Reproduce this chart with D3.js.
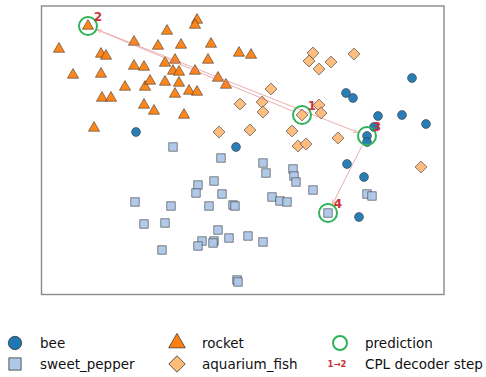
<!DOCTYPE html>
<html>
<head>
<meta charset="utf-8">
<script src="https://cdn.jsdelivr.net/npm/d3@7"></script>
<style>
  html, body { margin: 0; padding: 0; background: #fff; }
  svg { display: block; font-family: "DejaVu Sans", sans-serif; }
</style>
</head>
<body>
<svg id="chart" width="486" height="377"></svg>
<script>
// 2-D embedding of four classes, [x, y] per point
const beePoints = [
  [-10.4, 1.8], [-0.4, 0.3], [10.6, 5.7], [11.3, 5.2], [17.2, 7.2], [13.8, 3.4],
  [16.2, 3.5], [18.6, 2.6], [13.4, 2.3], [12.7, 1.4], [12.7, 0.8], [10.7, -1.4],
  [12.4, -2.7], [11.9, -6.7]
];
const sweetPepperPoints = [
  [-6.7, 0.3], [-1.9, -0.8], [-4.2, -3.5], [-2.6, -3.1], [-4.4, -4.3], [-1.8, -4.4],
  [-10.5, -5.2], [-6.9, -5.6], [-3.1, -5.6], [-0.7, -5.5], [-0.5, -5.6], [-9.6, -7.4],
  [-7.5, -7.3], [-2.2, -8.0], [-1.1, -8.8], [0.8, -8.6], [-3.8, -9.1], [-4.2, -9.6],
  [-2.6, -9.1], [-2.7, -9.3], [-7.8, -10.0], [-0.3, -13.0], [-0.2, -13.2], [2.3, -1.3],
  [2.6, -2.3], [5.3, -1.9], [5.4, -2.6], [5.6, -3.2], [7.3, -4.0], [3.2, -4.7],
  [4.0, -5.1], [4.7, -5.2], [12.7, -4.4], [13.2, -4.6], [8.8, -6.3], [2.3, -9.2]
];
const rocketPoints = [
  [-18.1, 10.1], [-16.7, 7.5], [-15.2, 12.4], [-14.6, 2.2], [-13.9, 9.6], [-13.4, 9.4],
  [-13.9, 7.6], [-13.8, 5.2], [-12.9, 5.2], [-11.5, 6.3], [-10.6, 10.8], [-10.6, 8.4],
  [-9.6, 8.3], [-9.6, 4.5], [-9.5, 6.3], [-9.0, 6.9], [-8.6, 3.9], [-8.2, 10.4],
  [-7.5, 8.7], [-7.5, 6.8], [-7.3, 11.9], [-6.7, 7.9], [-6.5, 9.0], [-6.5, 5.6],
  [-6.1, 7.8], [-5.9, 10.5], [-6.1, 6.7], [-5.6, 3.5], [-5.1, 5.9], [-4.3, 13.0],
  [-4.5, 12.5], [-4.3, 5.8], [-4.5, 7.9], [-3.2, 9.0], [-2.9, 10.6], [-2.2, 7.2],
  [-1.4, 6.5], [-0.1, 9.7], [1.1, 9.5]
];
const aquariumFishPoints = [
  [7.3, 9.7], [6.9, 8.9], [7.9, 8.1], [9.1, 8.8], [11.4, 9.6], [3.1, 6.1],
  [0.0, 4.6], [2.2, 4.8], [2.3, 3.8], [6.2, 3.5], [7.9, 4.5], [8.1, 3.7],
  [1.0, 2.0], [5.2, 1.9], [9.8, 1.2], [5.8, 0.4], [6.6, 0.6], [-2.1, 1.8],
  [18.1, -1.7]
];
// decoder predictions, in step order
const predictionSteps = [1, 2, 3, 4];
const predictionPoints = [[6.2, 3.5], [-15.2, 12.4], [12.7, 1.4], [8.8, -6.3]];

const legendLabels = ["bee", "sweet_pepper", "rocket", "aquarium_fish", "prediction", "CPL decoder step"];

const svg = d3.select("#chart");
const frame = { left: 41.5, right: 444, top: 6, bottom: 294.5 };

const x = d3.scaleLinear().domain([-19.85, 20.4]).range([frame.left, frame.right]);
const y = d3.scaleLinear().domain([-14.45, 14.4]).range([frame.bottom, frame.top]);

const edge = "#3a3a3a";
const classes = [
  { pts: beePoints, sym: d3.symbolCircle, size: 62, fill: "#1f77b4" },
  { pts: sweetPepperPoints, sym: d3.symbolSquare, size: 72, fill: "#aec7e8" },
  { pts: rocketPoints, sym: d3.symbolTriangle, size: 54, fill: "#ff7f0e" },
  { pts: aquariumFishPoints, sym: d3.symbolDiamond, size: 70, fill: "#ffbb78", diamond: true }
];

// diamond drawn as a rotated square for a matplotlib-like "D" marker
function markerPath(c, size) {
  if (c.diamond) return d3.symbol(d3.symbolSquare, size)();
  return d3.symbol(c.sym, size)();
}

// plot frame
svg.append("rect")
  .attr("x", frame.left).attr("y", frame.top)
  .attr("width", frame.right - frame.left).attr("height", frame.bottom - frame.top)
  .attr("fill", "none").attr("stroke", "#8a8a8a").attr("stroke-width", 1.4);

const plot = svg.append("g");

classes.forEach(c => {
  plot.append("g").selectAll("path").data(c.pts).join("path")
    .attr("d", markerPath(c, c.size))
    .attr("transform", d => `translate(${x(d[0])},${y(d[1])})` + (c.diamond ? " rotate(45)" : ""))
    .attr("fill", c.fill)
    .attr("stroke", edge)
    .attr("stroke-width", 0.6)
    .attr("fill-opacity", 0.95);
});

// decoder step arrows
const arrowColor = "#e07a7a";
svg.append("defs").append("marker")
  .attr("id", "head")
  .attr("viewBox", "0 0 10 10")
  .attr("refX", 9).attr("refY", 5)
  .attr("markerWidth", 5.5).attr("markerHeight", 5.5)
  .attr("markerUnits", "userSpaceOnUse")
  .attr("orient", "auto")
  .append("path")
  .attr("d", "M1,1.5 L9,5 L1,8.5")
  .attr("fill", "none")
  .attr("stroke", arrowColor)
  .attr("stroke-width", 1.4);

const shrink = 10;
const arrows = plot.append("g").attr("opacity", 0.6);
for (let i = 0; i < predictionPoints.length - 1; i++) {
  const a = predictionPoints[i], b = predictionPoints[i + 1];
  const x1 = x(a[0]), y1 = y(a[1]), x2 = x(b[0]), y2 = y(b[1]);
  const len = Math.hypot(x2 - x1, y2 - y1);
  const ux = (x2 - x1) / len, uy = (y2 - y1) / len;
  arrows.append("line")
    .attr("x1", x1 + ux * shrink).attr("y1", y1 + uy * shrink)
    .attr("x2", x2 - ux * shrink).attr("y2", y2 - uy * shrink)
    .attr("stroke", arrowColor)
    .attr("stroke-width", 1)
    .attr("marker-end", "url(#head)");
}

// prediction rings and step numbers
const predColor = "#2eb35a";
plot.append("g").selectAll("circle").data(predictionPoints).join("circle")
  .attr("cx", d => x(d[0])).attr("cy", d => y(d[1]))
  .attr("r", 9)
  .attr("fill", "none")
  .attr("stroke", predColor)
  .attr("stroke-width", 2);

plot.append("g").selectAll("text").data(predictionPoints).join("text")
  .attr("x", d => x(d[0]) + 10)
  .attr("y", d => y(d[1]) - 9)
  .attr("text-anchor", "middle")
  .attr("dominant-baseline", "central")
  .attr("font-size", 12)
  .attr("font-weight", "bold")
  .attr("fill", "#cc3333")
  .text((d, i) => predictionSteps[i]);

// legend
const legend = svg.append("g");
const legendItems = [
  { col: 0, row: 0, c: classes[0], lsize: 140 },
  { col: 0, row: 1, c: classes[1], lsize: 150 },
  { col: 1, row: 0, c: classes[2], lsize: 120 },
  { col: 1, row: 1, c: classes[3], lsize: 135 },
  { col: 2, row: 0, ring: true },
  { col: 2, row: 1, step: true }
];
const colMarkerX = [15, 177, 340];
const colTextX = [40, 202, 365];
const rowY = [343, 364];

legendItems.forEach((it, i) => {
  const mx = colMarkerX[it.col], my = rowY[it.row];
  if (it.c) {
    legend.append("path")
      .attr("d", markerPath(it.c, it.lsize))
      .attr("transform", `translate(${mx},${my})` + (it.c.diamond ? " rotate(45)" : ""))
      .attr("fill", it.c.fill)
      .attr("stroke", edge)
      .attr("stroke-width", 0.8);
  } else if (it.ring) {
    legend.append("circle")
      .attr("cx", mx).attr("cy", my).attr("r", 7)
      .attr("fill", "none").attr("stroke", predColor).attr("stroke-width", 2);
  } else if (it.step) {
    legend.append("text")
      .attr("x", mx - 3).attr("y", my)
      .attr("text-anchor", "middle")
      .attr("dominant-baseline", "central")
      .attr("font-size", 8.5)
      .attr("font-weight", "bold")
      .attr("fill", "#cc3333")
      .text(predictionSteps[0] + "\u2192" + predictionSteps[1]);
  }
  legend.append("text")
    .attr("x", colTextX[it.col]).attr("y", my)
    .attr("dominant-baseline", "central")
    .attr("font-size", 13.5)
    .attr("fill", "#111")
    .text(legendLabels[i]);
});
</script>
</body>
</html>
